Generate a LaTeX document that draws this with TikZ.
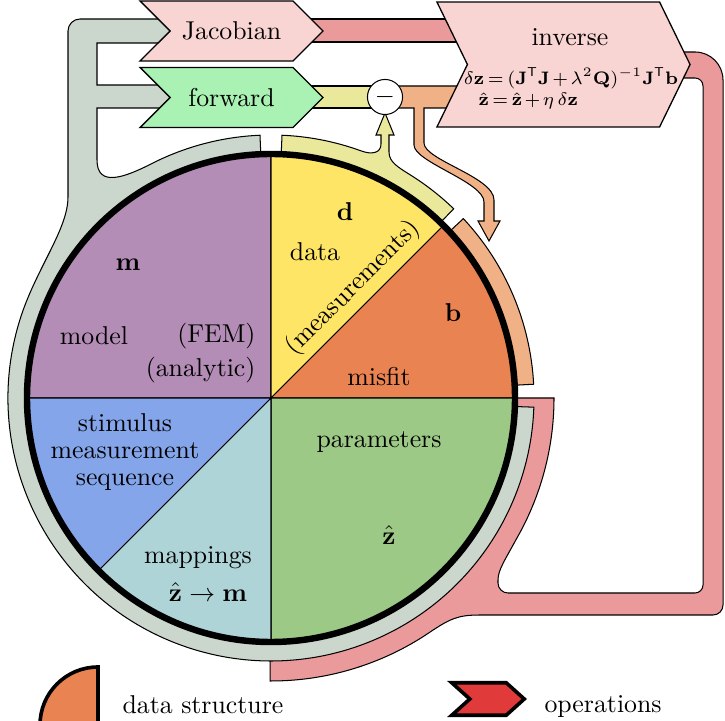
\documentclass[tikz,border=0pt]{standalone}
\usepackage{tikz}
\usetikzlibrary{calc,shapes.symbols}

\definecolor{flowgray}{RGB}{203,214,204}
\definecolor{flowred}{RGB}{234,154,154}
\definecolor{flowyellow}{RGB}{234,232,155}
\definecolor{floworange}{RGB}{240,177,134}
\definecolor{oppink}{RGB}{248,212,210}
\definecolor{opgreen}{RGB}{169,242,179}
\definecolor{opred}{RGB}{224,58,58}
\definecolor{modelpurple}{RGB}{179,141,182}
\definecolor{datayellow}{RGB}{255,229,101}
\definecolor{misfitorange}{RGB}{234,131,82}
\definecolor{paramgreen}{RGB}{157,201,135}
\definecolor{mapteal}{RGB}{175,212,215}
\definecolor{stimblue}{RGB}{132,165,234}

\newcommand{\tightmath}{\medmuskip=2mu\relax\thickmuskip=3mu\relax}

\tikzset{
  flow/.style={draw=black, line width=0.4pt},
  sector/.style={draw=black, line width=0.4pt},
  chevron/.style={shape=signal, signal to=east, signal from=west, draw=black, line width=0.5pt, inner sep=0pt},
  lab/.style={inner sep=1pt},
  eqn/.style={inner sep=0pt, font=\scriptsize},
}

\begin{document}
\begin{tikzpicture}[x=0.3876pt, y=0.3876pt]
  \useasboundingbox (0,0) rectangle (725,720);
  \coordinate (c) at (271,322);

  % red flow: Jacobian -> inverse -> parameters
  \filldraw[flow, fill=flowred] (305,678) rectangle (462,701);
  \filldraw[flow, fill=flowred] ($(c)+(0:244)$) -- ($(c)+(0:283)$)
    arc[start angle=0, end angle=-30, radius=283]
    .. controls (505,160) and (498,150) .. (498,140)
    -- (498,137) arc[start angle=180, end angle=270, radius=10]
    -- (695,127) arc[start angle=270, end angle=360, radius=8]
    -- (703,634) arc[start angle=0, end angle=90, radius=8]
    -- (675,642) -- (675,668) -- (695,668)
    arc[start angle=90, end angle=0, radius=28]
    -- (723,115) arc[start angle=0, end angle=-90, radius=10]
    -- (480,105) .. controls (458,105) and (450,101.4) .. ($(c)+(-56:283)$)
    arc[start angle=-56, end angle=-90.2, radius=283]
    -- ($(c)+(-90.2:244)$) arc[start angle=-90.2, end angle=0, radius=244]
    -- cycle;

  % gray flow: parameters -> model -> Jacobian, forward
  \filldraw[flow, fill=flowgray] ($(c)+(92.4:244)$) -- ($(c)+(92.4:263)$)
    arc[start angle=92.4, end angle=117.4, radius=263]
    .. controls (125,543) and (97,532) .. (97,560)
    -- (97,612) -- (178,612) -- (178,635) -- (97,635)
    -- (97,677) -- (178,677) -- (178,701)
    -- (80,701) arc[start angle=90, end angle=180, radius=12]
    -- (68,523) .. controls (68,490) and (35,450) .. ($(c)+(163:263)$)
    arc[start angle=163, end angle=358, radius=263]
    -- ($(c)+(358:244)$) arc[start angle=358, end angle=92.4, radius=244]
    -- cycle;

  % yellow flow: data -> minus, forward -> minus
  \filldraw[flow, fill=flowyellow] ($(c)+(46:244)$) -- ($(c)+(46:263)$)
    arc[start angle=46, end angle=58, radius=263]
    .. controls (397.7,553) and (389,558) .. (389,568)
    -- (389,585) -- (394,585) -- (385,607) -- (376,585) -- (381,585) -- (381,576)
    .. controls (381,567) and (372,565) .. ($(c)+(70:263)$)
    arc[start angle=70, end angle=87.6, radius=263]
    -- ($(c)+(87.6:244)$) arc[start angle=87.6, end angle=46, radius=244]
    -- cycle;
  \filldraw[flow, fill=flowyellow] (305,612) rectangle (386,634);

  % orange flow: minus -> inverse, minus -> misfit
  \filldraw[flow, fill=floworange] (384,634) -- (472,634) -- (472,612) -- (424,612) -- (424,577)
    .. controls (424,560) and (494,543) .. (494,520)
    -- (494,499) -- (500,499) -- (489,479) -- (478,499) -- (484,499) -- (484,518)
    .. controls (484,538) and (414,558) .. (414,575)
    -- (414,612) -- (384,612) -- cycle;
  \filldraw[flow, fill=floworange] ($(c)+(3:244)$) -- ($(c)+(3:263)$)
    arc[start angle=3, end angle=43, radius=263]
    -- ($(c)+(43:244)$) arc[start angle=43, end angle=3, radius=244] -- cycle;

  % data structure
  \foreach \a/\b/\col in {90/180/modelpurple, 45/90/datayellow, 0/45/misfitorange,
      -90/0/paramgreen, -135/-90/mapteal, 180/225/stimblue}
    \filldraw[sector, fill=\col] (c) -- ++(\a:244) arc[start angle=\a, end angle=\b, radius=244] -- cycle;
  \draw[line width=2.5pt] (c) circle[radius=244];

  \node[lab] (mlab) at (128,455) {$\mathbf{m}$};
  \node[lab] (model) at (94,384) {model};
  \node[lab, anchor=east, inner sep=0pt] (fem) at (256,384) {(FEM)};
  \node[lab, anchor=east, inner sep=0pt] (analytic) at (256,350) {(analytic)};
  \node[lab] (dlab) at (345,508) {$\mathbf{d}$};
  \node[lab] (data) at (315,468) {data};
  \node[lab, rotate=45] (meas) at (353,432) {(measurements)};
  \node[lab] (blab) at (453,407) {$\mathbf{b}$};
  \node[lab] (misfit) at (379,343) {misfit};
  \node[lab] (params) at (379,278) {parameters};
  \node[lab] (zlab) at (389,185) {$\hat{\mathbf{z}}$};
  \node[lab, align=center] (stim) at (125,268) {stimulus\\[-1.7pt]measurement\\[-1.7pt]sequence};
  \node[lab] (maps) at (198,162) {mappings};
  \node[lab] (mapz) at (208,128) {$\hat{\mathbf{z}}\to\mathbf{m}$};

  % operations
  \node[chevron, fill=oppink, minimum width=70.9pt, minimum height=23.3pt, signal pointer angle=90] (jac) at (231.5,689) {Jacobian};
  \node[chevron, fill=opgreen, minimum width=70.9pt, minimum height=23.3pt, signal pointer angle=90] (fwd) at (231.5,622.5) {forward};
  \node[chevron, fill=oppink, minimum width=98.1pt, minimum height=48.4pt, signal pointer angle=128] (inv) at (563.5,655.5) {};
  \node[lab] (invlab) at (570,683) {inverse};
  \node[eqn] (eq1) at (571,642) {$\tightmath\delta\mathbf{z}=(\mathbf{J}^{\mathsf{T}}\mathbf{J}+\lambda^2\mathbf{Q})^{-1}\mathbf{J}^{\mathsf{T}}\mathbf{b}$};
  \node[eqn, anchor=west] (eq2) at (478,619) {$\tightmath\hat{\mathbf{z}}=\hat{\mathbf{z}}+\eta\,\delta\mathbf{z}$};
  \node[circle, draw, fill=white, minimum size=13.6pt, inner sep=0pt] (minus) at (385,623) {$-$};

  % legend
  \filldraw[line width=1.4pt, fill=misfitorange] (98,-5) -- (98,53) arc[start angle=90, end angle=180, radius=58] -- cycle;
  \node[anchor=base west, inner sep=0pt] (dslab) at (122,7) {data structure};
  \node[chevron, fill=opred, line width=1.4pt, minimum width=28.1pt, minimum height=12.6pt, signal pointer angle=84] (oplegend) at (488,21) {};
  \node[anchor=base west, inner sep=0pt] (oplab) at (544,8) {operations};
\end{tikzpicture}
\end{document}
